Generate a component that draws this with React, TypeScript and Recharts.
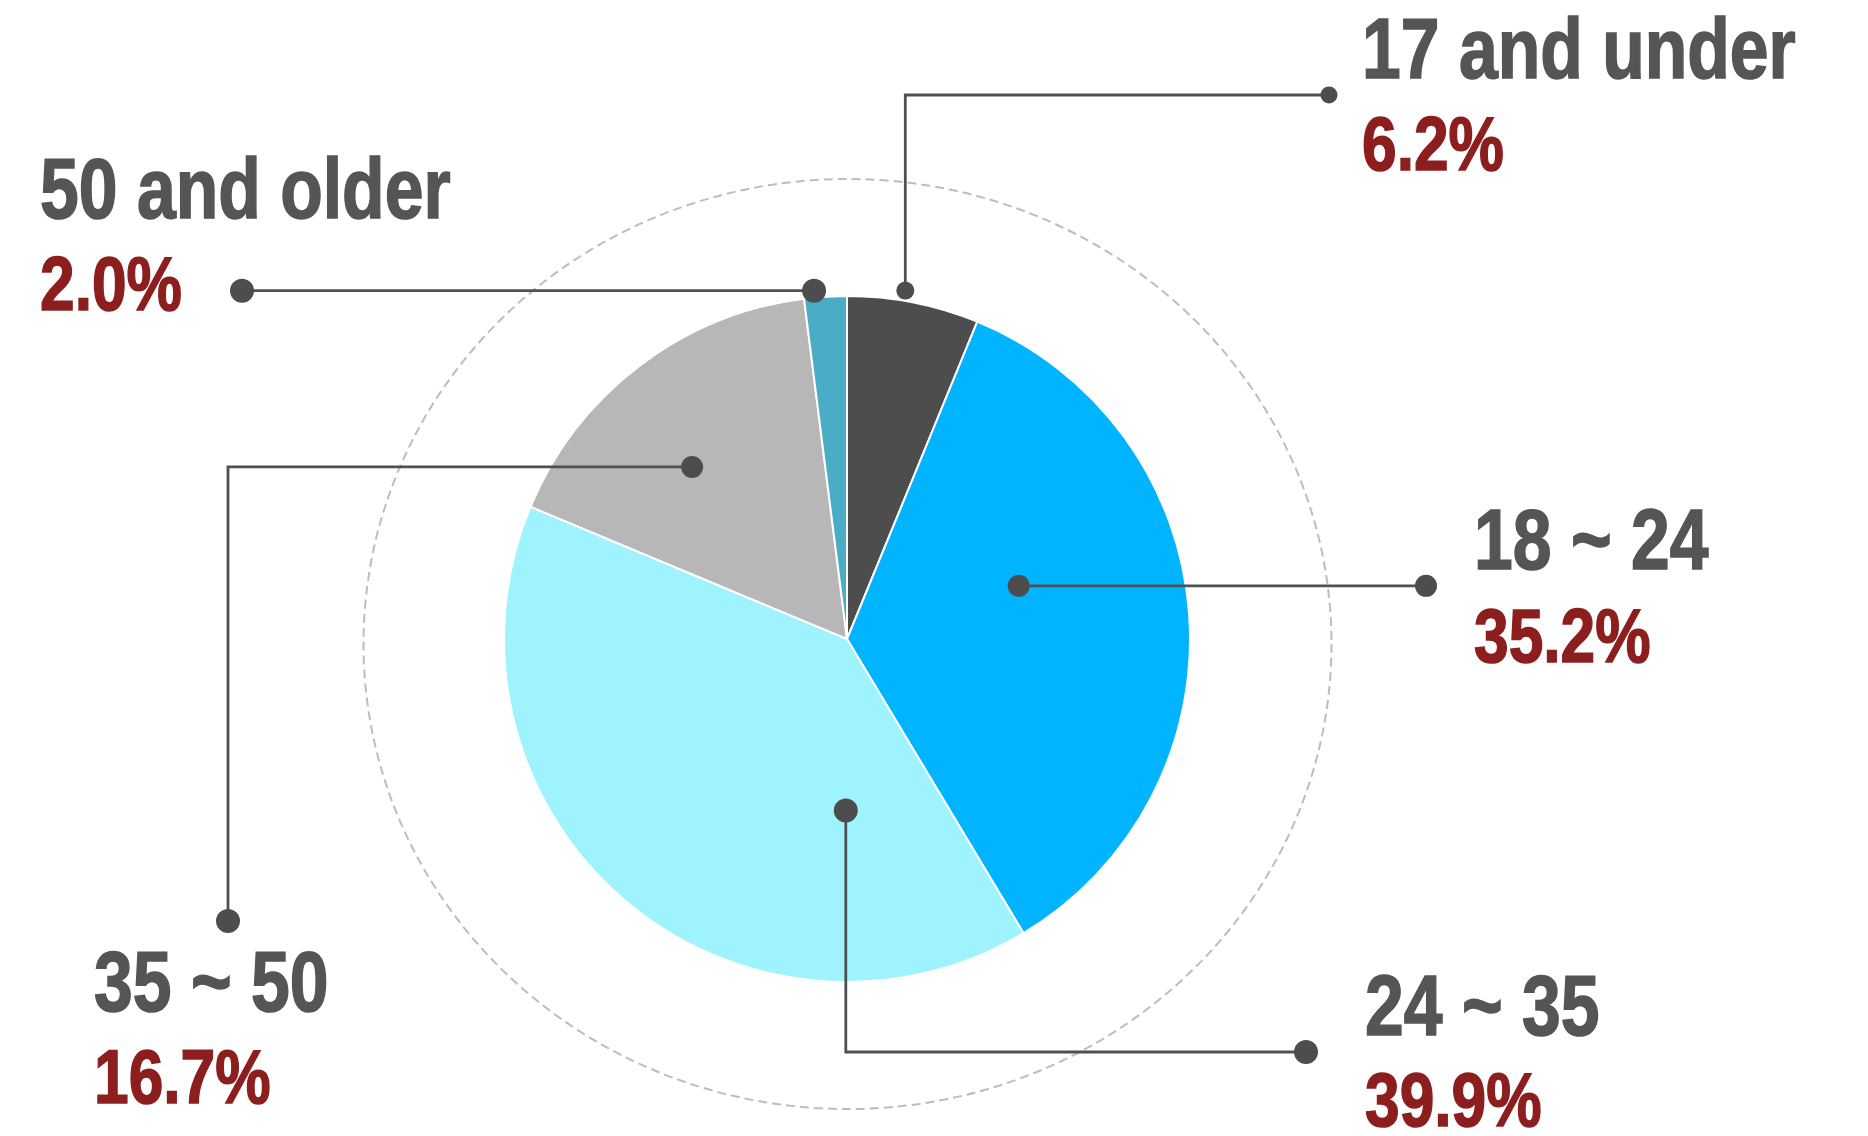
import { Cell, Pie, PieChart } from 'recharts'

// Age split of the audience, clockwise from 12 o'clock.
const AGE_GROUPS = ['17 and under', '18 ~ 24', '24 ~ 35', '35 ~ 50', '50 and older']
const SHARES = [6.2, 35.2, 39.9, 16.7, 2.0]
const SLICE_COLORS = ['#4d4d4d', '#00b4ff', '#9ef3fe', '#b7b7b7', '#4bacc6']

const NAME_COLOR = '#555555'
const PCT_COLOR = '#8c1e1e'
const LINE_COLOR = '#505050'
// No Arial Narrow offline: Liberation Sans Bold squeezed horizontally instead.
const FONT = "'Liberation Sans', Arial, sans-serif"
const NARROW = 0.82

if (typeof document !== 'undefined') document.body.style.margin = '0'

type Step = { x?: number; y?: number }
type Callout = {
  angle: number // where the leader starts, in pie polar coords
  rf: number // fraction of outer radius
  dot: number
  endDot: number
  route: Step[]
  textX: number
  nameY: number
  pctY: number
}

// Leader-line layout, one per slice (same order as AGE_GROUPS).
const CALLOUTS: Callout[] = [
  { angle: 80.5, rf: 1.03, dot: 9, endDot: 8.5, route: [{ y: 95 }, { x: 1329 }], textX: 1362, nameY: 78, pctY: 170 },
  { angle: 17.2, rf: 0.524, dot: 11, endDot: 11, route: [{ x: 1426 }], textX: 1474, nameY: 569, pctY: 662 },
  { angle: 269.6, rf: 0.5, dot: 12, endDot: 12, route: [{ y: 1052 }, { x: 1306 }], textX: 1365, nameY: 1035, pctY: 1126 },
  { angle: 132.0, rf: 0.675, dot: 11, endDot: 12, route: [{ x: 228 }, { y: 921 }], textX: 94, nameY: 1011, pctY: 1103 },
  { angle: 95.4, rf: 1.02, dot: 12, endDot: 12, route: [{ x: 242 }], textX: 40, nameY: 218, pctY: 310 },
]

const data = AGE_GROUPS.map((name, i) => ({ name, value: SHARES[i] }))

const RAD = Math.PI / 180

function CalloutLabel(props: any) {
  const { cx, cy, outerRadius, index, name, value } = props
  const c = CALLOUTS[index]
  if (!c) return null
  const r = outerRadius * c.rf
  const ax = cx + r * Math.cos(c.angle * RAD)
  const ay = cy - r * Math.sin(c.angle * RAD)
  const pts: [number, number][] = [[ax, ay]]
  c.route.forEach((s) => {
    const [px, py] = pts[pts.length - 1]
    pts.push([s.x ?? px, s.y ?? py])
  })
  const [ex, ey] = pts[pts.length - 1]
  return (
    <g>
      {index === 0 && (
        <ellipse
          cx={cx + 0.5}
          cy={cy + 5}
          rx={outerRadius + 141}
          ry={outerRadius + 122}
          fill="none"
          stroke="#bdbdbd"
          strokeWidth={2}
          strokeDasharray="9 5"
        />
      )}
      <polyline
        points={pts.map((p) => p.join(',')).join(' ')}
        fill="none"
        stroke={LINE_COLOR}
        strokeWidth={2.8}
      />
      <circle cx={ax} cy={ay} r={c.dot} fill="#4d4d4d" />
      <circle cx={ex} cy={ey} r={c.endDot} fill="#4d4d4d" />
      <text
        transform={`translate(${c.textX},${c.nameY}) scale(${NARROW},1)`}
        fill={NAME_COLOR}
        stroke={NAME_COLOR}
        strokeWidth={1.6}
        fontSize={85}
        fontWeight="bold"
        fontFamily={FONT}
      >
        {name}
      </text>
      <text
        transform={`translate(${c.textX},${c.pctY}) scale(${NARROW},1)`}
        fill={PCT_COLOR}
        stroke={PCT_COLOR}
        strokeWidth={1.6}
        fontSize={76}
        fontWeight="bold"
        fontFamily={FONT}
      >
        {`${Number(value).toFixed(1)}%`}
      </text>
    </g>
  )
}

export default function App() {
  return (
    <div style={{ width: 1868, height: 1136, background: '#fff' }}>
      <PieChart width={1868} height={1136} margin={{ top: 0, right: 0, bottom: 0, left: 0 }}>
        <Pie
          data={data}
          dataKey="value"
          nameKey="name"
          cx={847}
          cy={639}
          outerRadius={343}
          startAngle={90}
          endAngle={-270}
          stroke="#ffffff"
          strokeWidth={2}
          label={<CalloutLabel />}
          labelLine={false}
          isAnimationActive={false}
        >
          {data.map((d, i) => (
            <Cell key={d.name} fill={SLICE_COLORS[i]} />
          ))}
        </Pie>
      </PieChart>
    </div>
  )
}
